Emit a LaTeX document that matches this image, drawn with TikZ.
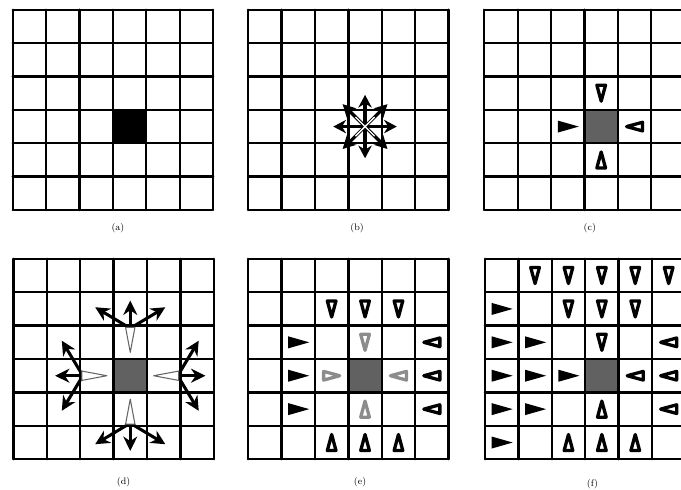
\documentclass[tikz,border=0pt]{standalone}
\usetikzlibrary{arrows.meta}
\begin{document}
\begin{tikzpicture}[>={Stealth[length=4.3mm,width=4.2mm]},font=\footnotesize,line cap=round,
  gridline/.style={line width=2pt},
  hot/.style={fill=black!62},
  lbl/.style={text=black},
  btri/.pic={\fill (-0.3,0.18) -- (0.33,0) -- (-0.3,-0.18) -- cycle;},
  otri/.pic={\draw[line width=2.8pt,line join=round,fill=white,pic actions] (-0.24,0.13) -- (0.24,0) -- (-0.24,-0.13) -- cycle;}]
\useasboundingbox (0,0) rectangle (20.39,14.67);
\clip (0,0) rectangle (20.39,14.67);
\begin{scope}[shift={(0.38,8.38)}]
\fill (3,2) rectangle (4,3);
\draw[gridline] (0,0) grid (6,6);
\node[lbl] (la) at (3.15,-0.54) {(a)};
\end{scope}
\begin{scope}[shift={(7.43,8.38)}]
\draw[gridline] (0,0) grid (6,6);
\foreach \a in {0,45,...,315}
  \draw[line width=2.8pt,-{Stealth[length=3.8mm,width=4mm]}] (3.5,2.5) -- ++(\a:0.95);
\draw[white,line width=1.1pt] (3.22,2.22) -- (3.78,2.78) (3.22,2.78) -- (3.78,2.22);
\node[lbl] (lb) at (3.26,-0.54) {(b)};
\end{scope}
\begin{scope}[shift={(14.5,8.38)}]
\fill[hot] (3,2) rectangle (4,3);
\draw[gridline] (0,0) grid (6,6);
\pic at (2.5,2.5) {btri};
\pic[rotate=270] at (3.5,3.5) {otri};
\pic[rotate=180] at (4.5,2.5) {otri};
\pic[rotate=90] at (3.5,1.5) {otri};
\node[lbl] (lc) at (3.16,-0.54) {(c)};
\end{scope}
\begin{scope}[shift={(0.4,0.92)}]
\fill[hot] (3,2) rectangle (4,3);
\draw[gridline] (0,0) grid (6,6);
\foreach \r in {0,90,180,270}{
  \begin{scope}[rotate around={\r:(3.5,2.5)}]
  \draw[line width=2.6pt,->] (3.5,3.92) -- (3.5,4.75);
  \draw[line width=2.6pt,->] (3.5,3.92) -- (2.45,4.55);
  \draw[line width=2.6pt,->] (3.5,3.92) -- (4.55,4.55);
  \draw[line width=0.9pt,draw=black!60,fill=white,line join=round] (3.5,3.2) -- (3.64,3.95) -- (3.36,3.95) -- cycle;
  \end{scope}}
\node[lbl] (ld) at (3.3,-0.68) {(d)};
\end{scope}
\begin{scope}[shift={(7.43,0.92)}]
\fill[hot] (3,2) rectangle (4,3);
\draw[gridline] (0,0) grid (6,6);
\foreach \x in {2.5,3.5,4.5}{
  \pic[rotate=270] at (\x,4.5) {otri};
  \pic[rotate=90] at (\x,0.5) {otri};}
\foreach \y in {1.5,2.5,3.5}{
  \pic at (1.5,\y) {btri};
  \pic[rotate=180] at (5.5,\y) {otri};}
\pic[rotate=270,draw=black!45] at (3.5,3.5) {otri};
\pic[draw=black!45] at (2.5,2.5) {otri};
\pic[rotate=180,draw=black!45] at (4.5,2.5) {otri};
\pic[rotate=90,draw=black!45] at (3.5,1.5) {otri};
\node[lbl] (le) at (3.35,-0.68) {(e)};
\end{scope}
\begin{scope}[shift={(14.52,0.92)}]
\fill[hot] (3,2) rectangle (4,3);
\draw[gridline] (0,0) grid (6,6);
\foreach \x/\y in {1.5/5.5,2.5/5.5,3.5/5.5,4.5/5.5,5.5/5.5,2.5/4.5,3.5/4.5,4.5/4.5,3.5/3.5}
  \pic[rotate=270] at (\x,\y) {otri};
\foreach \x/\y in {0.5/4.5,0.5/3.5,1.5/3.5,0.5/2.5,1.5/2.5,2.5/2.5,0.5/1.5,1.5/1.5,0.5/0.5}
  \pic at (\x,\y) {btri};
\foreach \x/\y in {5.5/3.5,4.5/2.5,5.5/2.5,5.5/1.5}
  \pic[rotate=180] at (\x,\y) {otri};
\foreach \x/\y in {3.5/1.5,2.5/0.5,3.5/0.5,4.5/0.5}
  \pic[rotate=90] at (\x,\y) {otri};
\node[lbl] (lf) at (3.22,-0.74) {(f)};
\end{scope}
\end{tikzpicture}
\end{document}
